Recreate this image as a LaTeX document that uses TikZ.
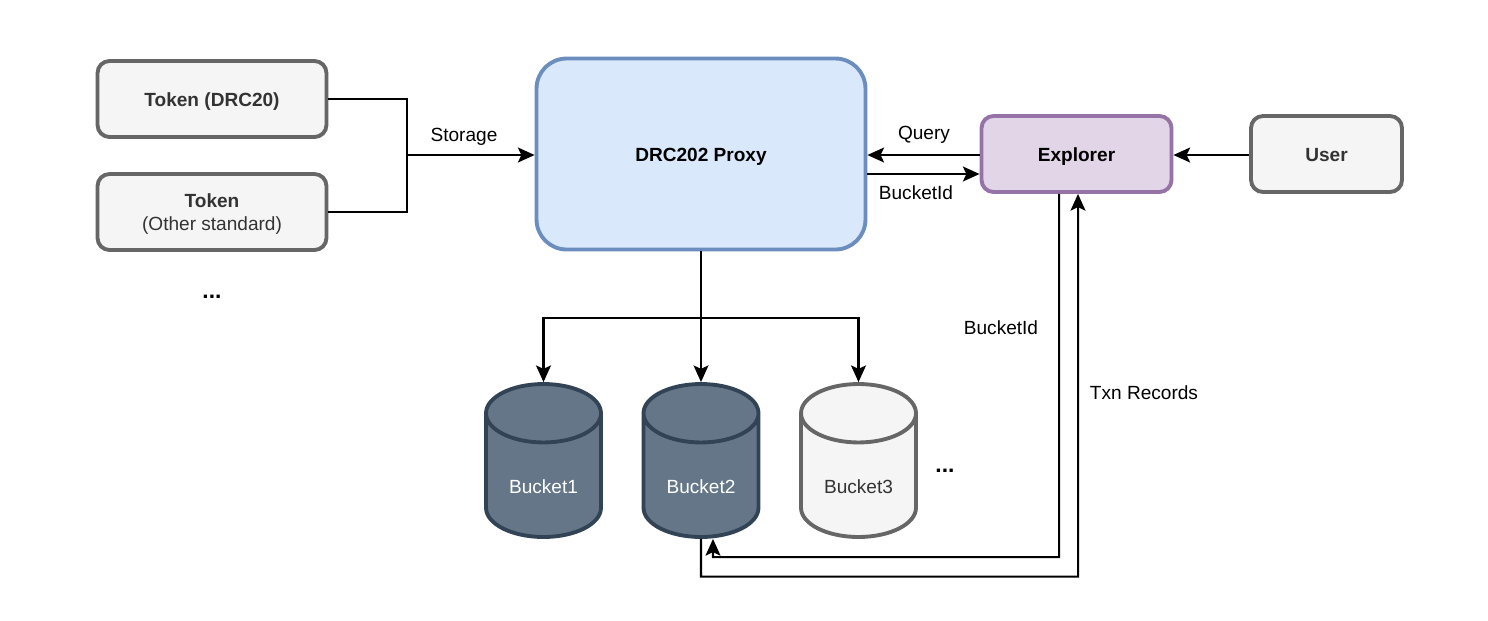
\documentclass[tikz,border=0pt]{standalone}
\usepackage{fontspec}
\setmainfont{Liberation Sans}
\usetikzlibrary{arrows.meta,shapes.geometric}

\definecolor{tokenfill}{HTML}{F5F5F5}
\definecolor{tokenline}{HTML}{666666}
\definecolor{tokentext}{HTML}{333333}
\definecolor{proxyfill}{HTML}{DAE8FC}
\definecolor{proxyline}{HTML}{6C8EBF}
\definecolor{explfill}{HTML}{E1D5E7}
\definecolor{explline}{HTML}{9673A6}
\definecolor{darkfill}{HTML}{647687}
\definecolor{darkline}{HTML}{314354}

\tikzset{
  box/.style={draw,rectangle,line width=2.2pt,font=\fontsize{10.85}{13}\selectfont,align=center,
    text height=9.8pt,text depth=1pt},
  greybox/.style={box,fill=tokenfill,draw=tokenline,text=tokentext,rounded corners=0.24cm},
  bucket/.style={cylinder,shape border rotate=90,aspect=0.725,draw,line width=2.2pt,
    minimum width=2.3cm,minimum height=3.06cm,font=\fontsize{10.85}{13}\selectfont,
    text height=12.8pt,text depth=0pt},
  conn/.style={draw,line width=1.15pt,-{Stealth[length=9.5pt,width=8.5pt,inset=2pt]}},
  lbl/.style={font=\fontsize{10.85}{13}\selectfont,inner sep=0pt}
}

\begin{document}
\begin{tikzpicture}[x=0.02cm,y=-0.02cm]

      \useasboundingbox (0,0) rectangle (1488,620);

      \begin{scope}[every node/.style={greybox,minimum width=4.58cm,minimum height=1.52cm}]
        \node (token1) at (212,99)  {\textbf{Token (DRC20)}};
        \node[text height=21.8pt] (token2) at (212,212) {\textbf{Token}\\(Other standard)};
      \end{scope}

      \node[box,fill=proxyfill,draw=proxyline,rounded corners=0.6cm,
            minimum width=6.58cm,minimum height=3.82cm] (proxy) at (701,154) {\textbf{DRC202 Proxy}};
      \node[box,fill=explfill,draw=explline,rounded corners=0.24cm,
            minimum width=3.8cm,minimum height=1.52cm] (explorer) at (1076.5,154) {\textbf{Explorer}};
      \node[greybox,minimum width=3.02cm,minimum height=1.52cm] (user) at (1326.5,154) {\textbf{User}};

      \begin{scope}[every node/.style={bucket}]
        \node[fill=darkfill,draw=darkline,text=white] (bucket1) at (543.5,482.5) {Bucket1};
        \node[fill=darkfill,draw=darkline,text=white] (bucket2) at (701,482.5)   {Bucket2};
        \node[fill=tokenfill,draw=tokenline,text=tokentext] (bucket3) at (858.5,482.5) {Bucket3};
      \end{scope}

      \coordinate (storage) at (407,155);
      \coordinate (fork) at (701,318);

      \draw[line width=1.15pt] (token1.east) -| (storage);
      \draw[line width=1.15pt] (token2.east) -| (storage);
      \path (storage) edge[conn] (proxy.west |- storage);

      \path ([yshift=-0.02cm]explorer.west) edge[conn] ([yshift=-0.02cm]proxy.east);
      \path ([yshift=-0.4cm]proxy.east) edge[conn] ([yshift=-0.4cm]explorer.west);
      \path ([yshift=-0.02cm]user.west) edge[conn] ([yshift=-0.02cm]explorer.east);

      \draw[line width=1.15pt] (proxy.south) -- (fork);
      \draw[conn] (fork) -| (bucket1.top);
      \draw[conn] (fork) -| (bucket3.top);
      \path (fork) edge[conn] (bucket2.top);

      \draw[conn] ([xshift=-0.35cm]explorer.south) |- (713,557) -- ([xshift=0.24cm]bucket2.bottom);
      \draw[conn] (bucket2.bottom) |- (1078,576.5) -- ([xshift=0.03cm]explorer.south);

      \begin{scope}[every node/.style={lbl}]
        \node (storagelbl) at (464,137)  {Storage};
        \node (querylbl)   at (924,135)  {Query};
        \node (idlbl)      at (916,193)  {BucketId};
        \node (idlbl2)     at (1001,328) {BucketId};
        \node (txnlbl)     at (1144,393) {Txn Records};
        \node[font=\fontsize{13}{13}\selectfont] (dots1) at (212,297)  {\textbf{...}};
        \node[font=\fontsize{13}{13}\selectfont] (dots2) at (945,471)  {\textbf{...}};
      \end{scope}

    \end{tikzpicture}
\end{document}
